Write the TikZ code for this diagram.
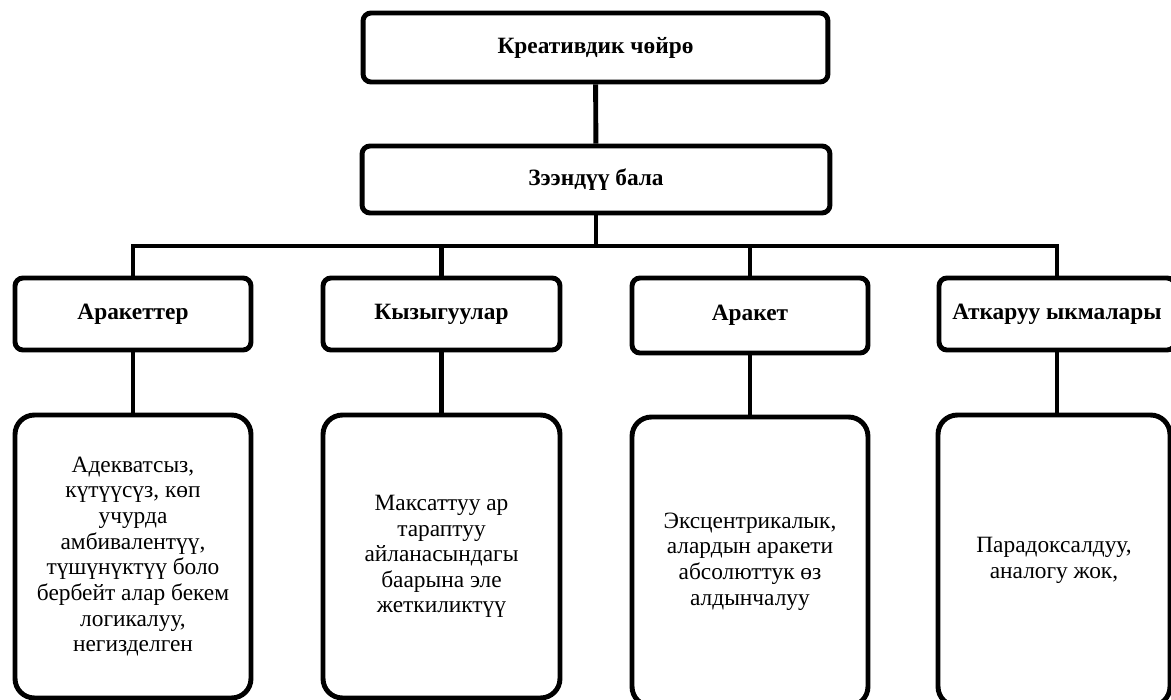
\documentclass[tikz,border=0pt]{standalone}
\usepackage{fontspec}
\setmainfont{Liberation Serif}

\tikzset{
  headbox/.style={draw, line width=2.8pt, rounded corners=4.5pt, inner sep=0pt,
    font=\bfseries\fontsize{13.3}{15}\selectfont},
  textbox/.style={draw, line width=2.8pt, rounded corners=11pt, inner sep=0pt,
    align=center, font=\fontsize{13.3}{14.6}\selectfont},
  link/.style={line width=2.8pt}
}

\begin{document}
\begin{tikzpicture}[x=0.02cm, y=-0.02cm]

  \useasboundingbox (0,0) rectangle (1171,700);

  \node (kreativ) at (595.5,47.5) [headbox, minimum width=9.3cm, minimum height=1.38cm] {Креативдик чөйрө};
  \node (zeendu) at (596,179.5) [headbox, minimum width=9.36cm, minimum height=1.34cm] {Зээндүү бала};

  \node (araketter) at (133,314) [headbox, minimum width=4.72cm, minimum height=1.44cm] {Аракеттер};
  \node (kyzyguu) at (441.5,314) [headbox, minimum width=4.74cm, minimum height=1.44cm] {Кызыгуулар};
  \node (araket) at (750,315.5) [headbox, minimum width=4.72cm, minimum height=1.5cm] {Аракет};
  \node (atkaruu) at (1057,314) [headbox, minimum width=4.72cm, minimum height=1.44cm] {Аткаруу ыкмалары};

  \node (adekvat) at (133,556.5) [textbox, minimum width=4.72cm, minimum height=5.66cm]
    {Адекватсыз,\\күтүүсүз, көп\\учурда\\амбивалентүү,\\түшүнүктүү боло\\бербейт алар бекем\\логикалуу,\\негизделген};
  \node (maksat) at (441.5,556.5) [textbox, minimum width=4.74cm, minimum height=5.66cm]
    {Максаттуу ар\\тараптуу\\айланасындагы\\баарына эле\\жеткиликтүү};
  \node (ekscent) at (750,561.5) [textbox, minimum width=4.72cm, minimum height=5.78cm]
    {Эксцентрикалык,\\алардын аракети\\абсолюттук өз\\алдынчалуу};
  \node (paradoks) at (1054,560.5) [textbox, minimum width=4.64cm, minimum height=5.82cm]
    {Парадоксалдуу,\\аналогу жок,};

  \coordinate (bus) at (596,246);

  \draw[link] (kreativ) -- (zeendu);
  \draw[link] (zeendu) -- (bus);
  \draw[link] (araketter.north) |- (atkaruu.north |- bus) -- (atkaruu.north);
  \draw[link] (kyzyguu.north) -- (kyzyguu.north |- bus);
  \draw[link] (araket.north) -- (araket.north |- bus);

  \draw[link] (araketter) -- (adekvat);
  \draw[link] (kyzyguu) -- (maksat);
  \draw[link] (araket) -- (ekscent);
  \draw[link] (atkaruu.south) -- (atkaruu.south |- paradoks.north);

\end{tikzpicture}
\end{document}
